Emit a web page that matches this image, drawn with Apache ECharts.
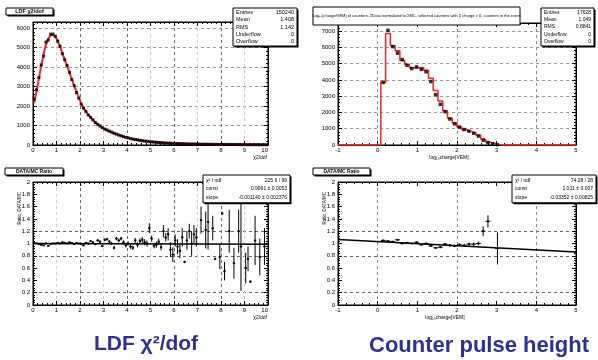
<!DOCTYPE html>
<html><head><meta charset="utf-8">
<script src="https://cdn.jsdelivr.net/npm/echarts@6/dist/echarts.min.js"></script>
<style>html,body{margin:0;padding:0;background:#fff}#c{width:598px;height:360px}</style>
</head><body><div id="c"></div>
<script>
// ---------- DATA ----------
// LDF chi2/dof histogram: bins of width 0.1 from 0 to 10
const ldfBinMin = 0, ldfBinWidth = 0.1;
const ldfData = [2350,2830,3460,4100,4550,5270,5370,5680,5680,5570,
 5320,5060,4680,4370,4070,3720,3350,3040,2690,2400,
 2090,1890,1720,1540,1420,1290,1150,1060,980,890,
 820,770,710,660,600,560,510,470,430,390,
 360,330,300,280,260,240,220,200,190,170,
 160,150,140,130,120,110,100,95,90,85,
 80,75,70,66,62,58,55,52,49,46,
 44,42,40,38,36,34,33,31,30,29,
 28,27,26,25,24,23,22,21,20,20,
 19,18,18,17,16,16,15,15,14,14];
const ldfMC = [2150,2750,3400,4050,4650,5150,5450,5620,5650,5560,
 5330,5040,4700,4360,4050,3720,3380,3050,2720,2420,
 2130,1900,1710,1550,1410,1280,1160,1060,970,890,
 820,760,700,650,600,550,510,470,430,400,
 370,340,310,290,270,245,225,205,190,175,
 160,150,140,130,120,110,102,96,90,84,
 78,73,69,65,61,57,54,51,48,46,
 44,42,40,38,36,35,33,32,30,29,
 28,27,26,25,24,23,22,21,21,20,
 19,19,18,17,17,16,16,15,15,14];

// Counter pulse height: log10 charge [VEM], 50 bins from -1 to 5
const chgBinMin = -1, chgBinWidth = 0.12;
const chgData = [0,0,0,0,0,0,0,0,0,
 3850,7050,6050,5650,5250,4900,4700,4800,4650,4500,3900,3100,2500,2050,1600,1300,1100,950,850,720,550,300,150,80,20,
 0,0,0,0,0,0,0,0,0,0,0,0,0,0,0,0];
const chgMC = [0,0,0,0,0,0,0,0,0,
 3850,6850,6100,5800,5200,4950,4750,4750,4750,4600,4100,3350,2700,2100,1650,1350,1100,950,850,750,600,350,180,100,20,
 0,0,0,0,0,0,0,0,0,0,0,0,0,0,0,0];

// DATA/MC ratio, LDF chi2/dof
const ratioLX = [0.05,0.15,0.25,0.35,0.45,0.55,0.65,0.75,0.85,0.95,1.05,1.15,1.25,1.35,1.45,1.55,1.65,1.75,1.85,1.95,
 2.05,2.15,2.25,2.35,2.45,2.55,2.65,2.75,2.85,2.95,3.05,3.15,3.25,3.35,3.45,3.55,3.65,3.75,3.85,3.95,
 4.05,4.15,4.25,4.35,4.45,4.55,4.65,4.75,4.85,4.95,5.05,5.15,5.25,5.35,5.45,5.55,5.65,5.75,5.85,5.95,
 6.05,6.15,6.25,6.35,6.45,6.55,6.65,6.75,6.85,6.95,7.15,7.35,7.45,7.65,7.75,7.95,8.05,8.15,8.35,8.55,
 8.75,8.85,9.05,9.15,9.25,9.45,9.65,9.85];
const ratioLY = [1.01,1.0,0.99,0.98,0.97,1.0,0.96,0.99,1.0,1.0,1.01,1.0,1.02,1.01,1.0,1.02,1.01,0.99,1.01,1.0,
 0.99,0.97,1.01,1.0,1.04,1.02,0.99,1.05,1.03,0.96,1.06,1.07,1.03,1.0,0.93,1.08,1.05,1.08,1.02,0.97,
 1.0,0.95,0.93,1.05,0.98,1.04,1.06,1.02,1.0,1.25,1.08,0.96,0.98,1.03,0.94,1.2,1.1,1.15,0.9,0.82,
 1.05,0.95,0.88,1.1,0.7,1.05,1.2,1.0,1.15,1.1,1.38,1.22,1.35,1.25,0.75,0.78,1.49,0.55,1.2,0.68,
 1.2,0.95,0.6,0.75,0.38,1.05,0.78,0.95];
const ratioLE = [0.01,0.01,0.01,0.01,0.01,0.01,0.01,0.01,0.01,0.01,0.01,0.01,0.01,0.01,0.01,0.01,0.01,0.01,0.012,0.012,
 0.013,0.014,0.015,0.016,0.017,0.018,0.019,0.02,0.021,0.022,0.023,0.024,0.025,0.026,0.027,0.028,0.03,0.03,0.032,0.034,
 0.035,0.036,0.038,0.04,0.042,0.045,0.048,0.05,0.05,0.08,0.05,0.04,0.05,0.05,0.05,0.1,0.07,0.1,0.12,0.12,
 0.1,0.12,0.12,0.15,0.02,0.15,0.12,0.2,0.15,0.15,0.22,0.3,0.45,0.2,0.02,0.2,0.02,0.15,0.35,0.25,
 0.35,0.72,0.25,0.2,0.02,0.4,0.3,0.3];
const fitL = {c: 0.9991, s: -0.001140};

// DATA/MC ratio, counter pulse height
const ratioRX = [0.14,0.26,0.38,0.50,0.62,0.74,0.86,0.98,1.10,1.22,1.34,1.46,1.58,1.70,1.82,1.94,2.06,2.18,2.30,2.42,2.54,2.66,2.78,3.02];
const ratioRY = [1.05,1.04,1.03,1.06,1.0,1.01,1.0,1.02,0.98,1.0,0.96,0.93,0.94,0.99,0.97,0.96,0.98,0.97,0.99,0.99,1.0,1.2,1.36,0.92];
const ratioRE = [0.01,0.01,0.01,0.01,0.01,0.01,0.01,0.01,0.01,0.01,0.012,0.014,0.015,0.018,0.02,0.02,0.022,0.024,0.025,0.028,0.03,0.08,0.1,0.26];
const fitR = {c: 1.031, s: -0.03352};

// Text
const statsL = [["Entries","150240"],["Mean","1.408"],["RMS","1.142"],["Underflow","0"],["Overflow","0"]];
const statsR = [["Entries","17628"],["Mean","1.049"],["RMS","0.8841"],["Underflow","0"],["Overflow","0"]];
const fitTxtL = [["\u03c7\u00b2 / ndf","225.6 / 99"],["const","0.9991 \u00b1 0.0053"],["slope","-0.001140 \u00b1 0.002376"]];
const fitTxtR = [["\u03c7\u00b2 / ndf","74.28 / 28"],["const","1.031 \u00b1 0.007"],["slope","-0.03352 \u00b1 0.00825"]];

// ---------- CHART ----------
const F = '"Liberation Sans", Arial, sans-serif';
const chart = echarts.init(document.getElementById('c'));

const T = 'rgba(0,0,0,0)';
const fmt = v => String(Math.round(v*1000)/1000);
function axes(g, xr, yr, xSplit, ySplit, alignMax) {
  const tick = {show:true, inside:true, length:4, lineStyle:{color:'#000', width:1}};
  const minor = {show:true, inside:true, splitNumber:5, length:2, lineStyle:{color:'#000', width:1}};
  const line = {show:true, onZero:false, lineStyle:{color:'#000', width:1}};
  const xl = {show:true, fontSize:6, margin:2, color:'#000', fontFamily:F, formatter:fmt, showMaxLabel:true};
  if (alignMax) xl.alignMaxLabel = alignMax;
  const xs = [
    {gridIndex:g, type:'value', position:'bottom', min:xr[0], max:xr[1], interval:xr[2], axisLine:line, axisTick:tick, minorTick:minor,
      axisLabel:xl, splitLine:{show:true, lineStyle:{type:[3,3], color:xSplit, width:1}}},
    {gridIndex:g, type:'value', position:'top', min:xr[0], max:xr[1], interval:xr[2], axisLine:line, axisTick:tick, minorTick:minor,
      axisLabel:{show:false}, splitLine:{show:false}}
  ];
  const ys = [
    {gridIndex:g, type:'value', position:'left', min:yr[0], max:yr[1], interval:yr[2], axisLine:line, axisTick:tick, minorTick:minor,
      axisLabel:{show:true, fontSize:6, margin:3, color:'#000', fontFamily:F, showMaxLabel: yr[3] !== false, formatter:fmt},
      splitLine:{show:true, lineStyle:{type:[3,3], color:ySplit, width:1}}},
    {gridIndex:g, type:'value', position:'right', min:yr[0], max:yr[1], interval:yr[2], axisLine:line, axisTick:tick, minorTick:minor,
      axisLabel:{show:false}, splitLine:{show:false}}
  ];
  return {xs, ys};
}

const a0 = axes(0, [0,10,1], [0,6300,1000,false], ['#666','#ccc'], ['#999'], 'right');
const a1 = axes(1, [-1,5,1], [0,7500,1000,false], [T,'#888'], ['#999'], null);
const a2 = axes(2, [0,10,1], [0,2,0.2], ['#666','#ccc'], [T,'#666',T,T,'#666',T,'#666',T,T,T,T], 'right');
const a3 = axes(3, [-1,5,1], [0,2,0.2], [T,'#888'], [T,'#666',T,T,'#666',T,'#666',T,T,T,T], null);

const ldfLine = ldfMC.map((v,i)=>[ldfBinMin + ldfBinWidth*(i+0.5), v]);
const ldfPts = ldfData.map((v,i)=>[ldfBinMin + ldfBinWidth*(i+0.5), v]);
const chgStep = [[chgBinMin,0]].concat(chgMC.map((v,i)=>[chgBinMin + chgBinWidth*(i+0.5), v]), [[chgBinMin+chgBinWidth*chgMC.length,0]]);
const chgPts = chgData.map((v,i)=>[chgBinMin + chgBinWidth*(i+0.5), v]).filter(p=>p[1]>0);

function errRender(hw) {
  return function(params, api) {
    const x = api.value(0), y = api.value(1), lo = api.value(2), hi = api.value(3);
    const p1 = api.coord([x, lo]), p2 = api.coord([x, hi]);
    const q1 = api.coord([x-hw, y]), q2 = api.coord([x+hw, y]);
    return {type:'group', children:[
      {type:'line', shape:{x1:p1[0],y1:p1[1],x2:p2[0],y2:p2[1]}, style:{stroke:'#000', lineWidth:1}},
      {type:'line', shape:{x1:q1[0],y1:q1[1],x2:q2[0],y2:q2[1]}, style:{stroke:'#000', lineWidth:1}}
    ]};
  };
}
const errL = ratioLX.map((x,i)=>[x, ratioLY[i], ratioLY[i]-ratioLE[i], ratioLY[i]+ratioLE[i]]);
const errR = ratioRX.map((x,i)=>[x, ratioRY[i], ratioRY[i]-ratioRE[i], ratioRY[i]+ratioRE[i]]);

// graphic
const G = [];
function box(x,y,w,h,shadow){
  if (shadow) G.push({type:'rect', z:100, shape:{x:x+1.5,y:y+1.5,width:w,height:h}, style:{fill:'#000'}});
  G.push({type:'rect', z:101, shape:{x:x,y:y,width:w,height:h}, style:{fill:'#fff', stroke:'#000', lineWidth:1}});
}
function txt(x,y,t,size,align,o){
  o = o || {};
  const el = {type:'text', z:102, x:x, y:y, style:{text:t, font:(o.bold?'bold ':'')+size+'px '+F, fill:o.color||'#000',
    textAlign:align||'left', align:align||'left', textVerticalAlign:'middle', verticalAlign:'middle'}};
  if (o.rotation!=null) el.rotation = o.rotation;
  G.push(el);
}
function statBox(x,y,w,rows,rh,fs){
  box(x,y,w,rows.length*rh+2,true);
  rows.forEach((r,i)=>{ txt(x+3, y+1+rh*(i+0.5), r[0], fs, 'left'); txt(x+w-3, y+1+rh*(i+0.5), r[1], fs, 'right'); });
}
// titles
box(6,8,47,7,true); txt(29.5,11.6,'LDF \u03c72/dof',5.5,'center',{bold:true});
box(313,7,207,18,false); txt(416.5,16,'Log\u2081\u2080(charge/VEM) of counters, \u03a3Data normalized to \u03a3MC, selected counters with \u03a3 charge > 0, counters in the event',4,'center');
box(5,168,58,7,true); txt(34,171.6,'DATA/MC Ratio',5,'center',{bold:true});
box(313,168,57,7,true); txt(341.5,171.6,'DATA/MC Ratio',5,'center',{bold:true});
statBox(233,8,64,statsL,7.2,5.5);
statBox(541,8,53,statsR,7.2,5);
statBox(203,175,87,fitTxtL,8.6,5);
statBox(512,175,84,fitTxtR,8.6,5);
// axis titles
txt(267,158,'\u03c72/dof',5,'right');
txt(449,158,'log\u2081\u2080charge[VEM]',5,'center');
txt(267,318,'\u03c72/dof',5,'right');
txt(445,318,'log\u2081\u2080charge[VEM]',5,'center');
txt(20,192,'Ratio, DATA/MC',4.5,'right',{rotation:Math.PI/2});
txt(325,192,'Ratio, DATA/MC',4.5,'right',{rotation:Math.PI/2});
// captions
txt(146,344,'LDF \u03c7\u00b2/dof',21,'center',{bold:true,color:'#2e3192'});
txt(479,346,'Counter pulse height',22,'center',{bold:true,color:'#2e3192'});

chart.setOption({
  animation:false,
  backgroundColor:'#fff',
  grid:[
    {left:33, top:22, width:235, height:123, show:true, borderColor:'#000', borderWidth:1},
    {left:338, top:23, width:238, height:122, show:true, borderColor:'#000', borderWidth:1},
    {left:33, top:182, width:235, height:123, show:true, borderColor:'#000', borderWidth:1},
    {left:338, top:182, width:238, height:123, show:true, borderColor:'#000', borderWidth:1}
  ],
  xAxis: a0.xs.concat(a1.xs, a2.xs, a3.xs),
  yAxis: a0.ys.concat(a1.ys, a2.ys, a3.ys),
  series:[
    {type:'line', xAxisIndex:0, yAxisIndex:0, data:ldfLine, showSymbol:false, lineStyle:{color:'#ff2020', width:2}, z:2},
    {type:'scatter', xAxisIndex:0, yAxisIndex:0, data:ldfPts, symbol:'rect', symbolSize:3, itemStyle:{color:'#000'}, z:3},
    {type:'line', xAxisIndex:2, yAxisIndex:2, data:chgStep, step:'middle', showSymbol:false, lineStyle:{color:'#ff2020', width:1.5}, z:2},
    {type:'scatter', xAxisIndex:2, yAxisIndex:2, data:chgPts, symbol:'rect', symbolSize:3.5, itemStyle:{color:'#000'}, z:3},
    {type:'custom', xAxisIndex:4, yAxisIndex:4, data:errL, renderItem:errRender(0.05), clip:true, encode:{x:0, y:[2,3]}, z:3},
    {type:'scatter', xAxisIndex:4, yAxisIndex:4, data:errL.map(d=>[d[0],d[1]]), symbol:'rect', symbolSize:2, itemStyle:{color:'#000'}, z:3},
    {type:'line', xAxisIndex:4, yAxisIndex:4, data:[[0, fitL.c], [10, fitL.c + fitL.s*10]], showSymbol:false, lineStyle:{color:'#000', width:1.5}, z:4},
    {type:'custom', xAxisIndex:6, yAxisIndex:6, data:errR, renderItem:errRender(0.06), clip:true, encode:{x:0, y:[2,3]}, z:3},
    {type:'scatter', xAxisIndex:6, yAxisIndex:6, data:errR.map(d=>[d[0],d[1]]), symbol:'rect', symbolSize:2, itemStyle:{color:'#000'}, z:3},
    {type:'line', xAxisIndex:6, yAxisIndex:6, data:[[-1, fitR.c - fitR.s], [5, fitR.c + fitR.s*5]], showSymbol:false, lineStyle:{color:'#000', width:1.5}, z:4}
  ],
  graphic:{elements:G}
});
</script>
</body></html>
